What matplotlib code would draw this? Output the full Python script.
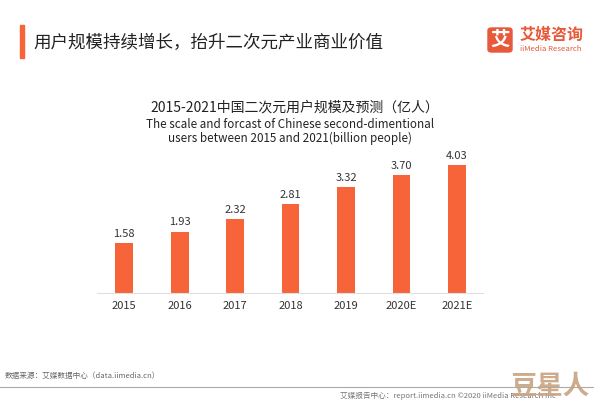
import matplotlib
matplotlib.use("Agg")
import matplotlib.pyplot as plt
from matplotlib.patches import FancyBboxPatch, Rectangle
from matplotlib.lines import Line2D

plt.rcParams['font.family'] = ['Noto Sans CJK SC', 'DejaVu Sans']

categories = ["2015", "2016", "2017", "2018", "2019", "2020E", "2021E"]
values = [1.58, 1.93, 2.32, 2.81, 3.32, 3.70, 4.03]
value_labels = ["1.58", "1.93", "2.32", "2.81", "3.32", "3.70", "4.03"]

W, H = 594, 407
fig = plt.figure(figsize=(W / 100, H / 100), dpi=100)
fig.patch.set_facecolor("white")

orange = "#F8643A"

def px(x, y):
    return x / W, 1 - y / H

# header
fig.patches.append(Rectangle(px(20, 58), 4 / W, 33 / H, transform=fig.transFigure,
                             color=orange, zorder=3))
fig.text(*px(33, 43), "用户规模持续增长，抬升二次元产业商业价值", fontsize=12.6,
         color="#222222", va="center", ha="left")

# logo
fig.patches.append(FancyBboxPatch(px(488, 52), 24 / W, 24 / H, transform=fig.transFigure,
                                  boxstyle="round,pad=0,rounding_size=0.006",
                                  color="#E8593A", zorder=3))
fig.text(*px(500, 40), "艾", fontsize=14, color="white", fontweight="bold",
         ha="center", va="center", zorder=4)
fig.text(*px(520, 35), "艾媒咨询", fontsize=11.5, color="#E8593A", fontweight="bold",
         ha="left", va="center")
fig.text(*px(520, 49), "iiMedia Research", fontsize=5.6, color="#E8593A",
         ha="left", va="center")

# chart titles
fig.text(*px(295, 108), "2015-2021中国二次元用户规模及预测（亿人）", fontsize=10,
         color="#222222", ha="center", va="center")
fig.text(*px(290, 124), "The scale and forcast of Chinese second-dimentional", fontsize=8.4,
         color="#222222", ha="center", va="center")
fig.text(*px(290, 138), "users between 2015 and 2021(billion people)", fontsize=8.4,
         color="#222222", ha="center", va="center")

# bar axes
left, right, base, top = 97, 483, 293, 150
ax = fig.add_axes([left / W, (H - base) / H, (right - left) / W, (base - top) / H])
x = list(range(len(categories)))
bars = ax.bar(x, values, width=0.32, color=orange, zorder=2)
ax.set_xlim(-0.49, 6.47)
ax.set_ylim(0, (base - top) / 31.8)
for xi, v, lab in zip(x, values, value_labels):
    ax.text(xi, v + 0.13, lab, ha="center", va="bottom", fontsize=8, color="#333333")
ax.set_xticks(x)
ax.set_xticklabels(categories, fontsize=8, color="#333333")
ax.tick_params(axis="x", length=0, pad=6)
ax.set_yticks([])
for s in ["top", "right", "left"]:
    ax.spines[s].set_visible(False)
ax.spines["bottom"].set_color("#E0E0E0")
ax.spines["bottom"].set_linewidth(0.8)
ax.set_facecolor("none")

# footer
fig.text(*px(5, 376), "数据来源：艾媒数据中心（data.iimedia.cn）", fontsize=5.5,
         color="#666666", ha="left", va="center")
fig.lines.append(Line2D([0, 1], [1 - 387 / H, 1 - 387 / H], transform=fig.transFigure,
                        color="#AAAAAA", linewidth=0.8))
fig.text(*px(340, 396), "艾媒报告中心：report.iimedia.cn ©2020 iiMedia Research Inc",
         fontsize=5.5, color="#777777", ha="left", va="center")
fig.text(*px(550, 386), "豆星人", fontsize=19, color="#C8A27E", fontweight="bold",
         ha="center", va="center", alpha=0.9, zorder=5)

fig.savefig("out.png", dpi=100, facecolor="white")
